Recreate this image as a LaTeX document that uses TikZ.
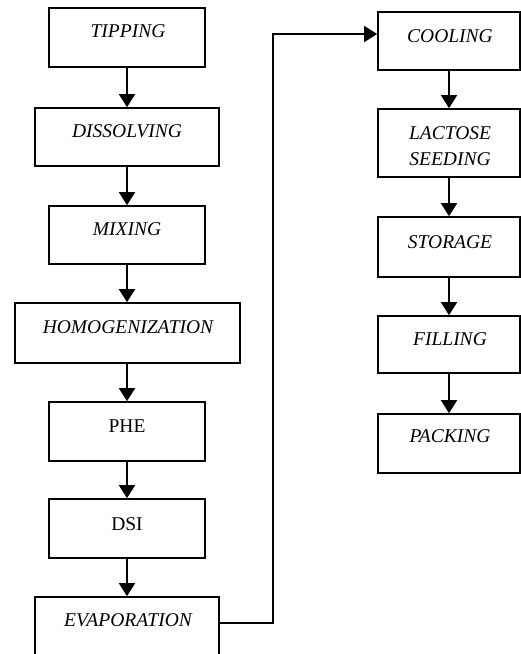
\documentclass[tikz,border=0pt]{standalone}
\usepackage{fontspec}
\setmainfont{Liberation Serif}
\usetikzlibrary{arrows.meta}
\begin{document}
\begin{tikzpicture}[x=1pt,y=-1pt,
  box/.style={draw, line width=1.6pt, inner sep=0pt},
  lbl/.style={font=\fontsize{19.5}{26}\selectfont, inner sep=0pt, text height=13pt, text depth=0pt},
  itl/.style={lbl, font=\fontsize{19.5}{26}\selectfont\itshape},
  arr/.style={line width=1.6pt, -{Triangle[width=16pt,length=13pt]}}]
\useasboundingbox (0,0) rectangle (521,654);
% left column boxes
\node[box, minimum width=156pt, minimum height=59pt] (tip) at (127,37.5) {};
\node[box, minimum width=184pt, minimum height=58pt] (dis) at (127,137) {};
\node[box, minimum width=156pt, minimum height=58pt] (mix) at (127,235) {};
\node[box, minimum width=225pt, minimum height=60pt] (hom) at (127.5,333) {};
\node[box, minimum width=156pt, minimum height=59pt] (phe) at (127,431.5) {};
\node[box, minimum width=156pt, minimum height=59pt] (dsi) at (127,528.5) {};
\node[box, minimum width=184pt, minimum height=64pt] (eva) at (127,629) {};
% right column boxes
\node[box, minimum width=142pt, minimum height=58pt] (cool) at (449,41) {};
\node[box, minimum width=142pt, minimum height=68pt] (lac) at (449,143) {};
\node[box, minimum width=142pt, minimum height=60pt] (sto) at (449,247) {};
\node[box, minimum width=142pt, minimum height=57pt] (fil) at (449,344.5) {};
\node[box, minimum width=142pt, minimum height=59pt] (pac) at (449,443.5) {};
% labels
\node[itl] (tipL) at (128,31) {TIPPING};
\node[itl] (disL) at (127,131) {DISSOLVING};
\node[itl] (mixL) at (127,229) {MIXING};
\node[itl] (homL) at (128,327) {HOMOGENIZATION};
\node[lbl] (pheL) at (127,425.5) {PHE};
\node[lbl] (dsiL) at (127,524) {DSI};
\node[itl] (evaL) at (128,620) {EVAPORATION};
\node[itl] (coolL) at (450,36) {COOLING};
\node[itl] (lacL1) at (450,133) {LACTOSE};
\node[itl] (lacL2) at (450,159) {SEEDING};
\node[itl] (stoL) at (450,241.5) {STORAGE};
\node[itl] (filL) at (450,338.5) {FILLING};
\node[itl] (pacL) at (450,436) {PACKING};
% connectors
\draw[arr] (tip.south) -- (tip.south |- dis.north);
\draw[arr] (dis.south) -- (dis.south |- mix.north);
\draw[arr] (mix.south) -- (mix.south |- hom.north);
\draw[arr] (hom.south -| phe.north) -- (phe.north);
\draw[arr] (phe.south) -- (phe.south |- dsi.north);
\draw[arr] (dsi.south) -- (dsi.south |- eva.north);
\draw[arr] ([yshift=6pt]eva.east) -- ++(53,0) |- ([yshift=7pt]cool.west);
\draw[arr] (cool.south) -- (cool.south |- lac.north);
\draw[arr] (lac.south) -- (lac.south |- sto.north);
\draw[arr] (sto.south) -- (sto.south |- fil.north);
\draw[arr] (fil.south) -- (fil.south |- pac.north);
\end{tikzpicture}
\end{document}
